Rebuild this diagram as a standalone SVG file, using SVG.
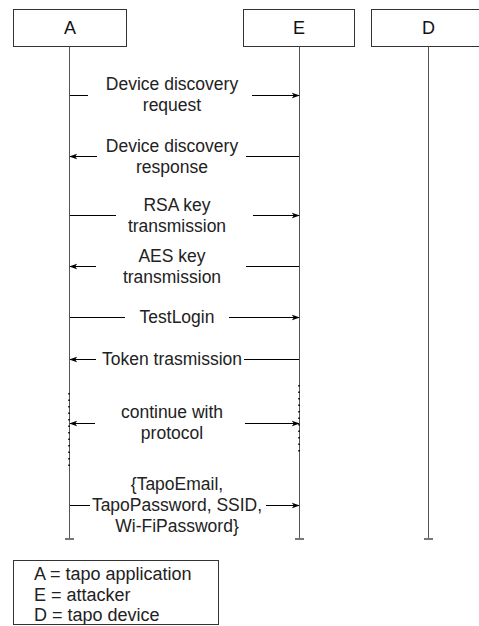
<svg xmlns="http://www.w3.org/2000/svg" width="479" height="626" viewBox="0 0 479 626">
<defs>
<marker id="ah" viewBox="0 0 10 10" refX="9" refY="5" markerWidth="8" markerHeight="8" markerUnits="userSpaceOnUse" orient="auto-start-reverse">
<path d="M0,1.5 L10,5 L0,8.5 L2.5,5 Z" fill="#000"/>
</marker>
<style>
.box{fill:#fff;stroke:#333;stroke-width:1}
.life{stroke:#555;stroke-width:1;fill:none}
.cap{stroke:#777;stroke-width:2}
.dots{stroke:#000;stroke-width:1.5;stroke-dasharray:1.5 5;fill:none}
.msg{stroke:#000;stroke-width:1;fill:none}
.t{font-family:"Liberation Sans",Arial,sans-serif;font-size:17.5px;fill:#222;text-anchor:middle}
.h{font-family:"Liberation Sans",Arial,sans-serif;font-size:18px;fill:#111;text-anchor:middle}
.l{font-family:"Liberation Sans",Arial,sans-serif;font-size:18px;fill:#222}
</style>
</defs>
<rect width="479" height="626" fill="#fff"/>
<g id="A">
<rect class="box" x="13.5" y="9.5" width="113" height="37"/>
<text class="h" x="70" y="34">A</text>
<line class="life" x1="69.5" y1="46.5" x2="69.5" y2="539"/>
<line class="cap" x1="65" y1="539" x2="74" y2="539"/>
</g>
<g id="E">
<rect class="box" x="243.5" y="9.5" width="111" height="37"/>
<text class="h" x="299" y="34">E</text>
<line class="life" x1="299.5" y1="46.5" x2="299.5" y2="539"/>
<line class="cap" x1="295" y1="539" x2="304" y2="539"/>
</g>
<g id="D">
<rect class="box" x="371.5" y="9.5" width="115" height="37"/>
<text class="h" x="428.5" y="34">D</text>
<line class="life" x1="428.5" y1="46.5" x2="428.5" y2="539"/>
<line class="cap" x1="424" y1="539" x2="433" y2="539"/>
</g>
<g id="connectors">
<line class="dots" x1="69" y1="393" x2="69" y2="466"/>
<line class="dots" x1="299" y1="385" x2="299" y2="456"/>
<line class="msg" x1="70" y1="95.5" x2="88" y2="95.5"/>
<line class="msg" x1="252" y1="95.5" x2="299" y2="95.5" marker-end="url(#ah)"/>
<line class="msg" x1="97" y1="156.5" x2="70" y2="156.5" marker-end="url(#ah)"/>
<line class="msg" x1="246" y1="156.5" x2="299" y2="156.5"/>
<line class="msg" x1="70" y1="215.5" x2="116" y2="215.5"/>
<line class="msg" x1="253" y1="215.5" x2="299" y2="215.5" marker-end="url(#ah)"/>
<line class="msg" x1="96" y1="266.5" x2="70" y2="266.5" marker-end="url(#ah)"/>
<line class="msg" x1="246" y1="266.5" x2="299" y2="266.5"/>
<line class="msg" x1="70" y1="317.5" x2="125" y2="317.5"/>
<line class="msg" x1="229" y1="317.5" x2="299" y2="317.5" marker-end="url(#ah)"/>
<line class="msg" x1="96" y1="359.5" x2="70" y2="359.5" marker-end="url(#ah)"/>
<line class="msg" x1="244" y1="359.5" x2="299" y2="359.5"/>
<line class="msg" x1="95" y1="423.5" x2="70" y2="423.5" marker-end="url(#ah)"/>
<line class="msg" x1="245" y1="423.5" x2="299" y2="423.5" marker-end="url(#ah)"/>
<line class="msg" x1="70" y1="505.5" x2="90" y2="505.5"/>
<line class="msg" x1="266" y1="505.5" x2="299" y2="505.5" marker-end="url(#ah)"/>
</g>
<g id="labels">
<text class="t" x="172" y="90">Device discovery</text>
<text class="t" x="172" y="111">request</text>
<text class="t" x="172" y="152">Device discovery</text>
<text class="t" x="172" y="173">response</text>
<text class="t" x="177" y="211">RSA key</text>
<text class="t" x="177" y="232">transmission</text>
<text class="t" x="172" y="262">AES key</text>
<text class="t" x="172" y="283">transmission</text>
<text class="t" x="177" y="323">TestLogin</text>
<text class="t" x="172" y="365">Token trasmission</text>
<text class="t" x="172" y="418">continue with</text>
<text class="t" x="172" y="439">protocol</text>
<text class="t" x="177" y="490">{TapoEmail,</text>
<text class="t" x="177" y="511">TapoPassword, SSID,</text>
<text class="t" x="177" y="532">Wi-FiPassword}</text>
</g>
<g id="legend">
<rect class="box" x="13.5" y="560.5" width="205" height="64"/>
<text class="l" x="34" y="580">A = tapo application</text>
<text class="l" x="34" y="601">E = attacker</text>
<text class="l" x="34" y="621">D = tapo device</text>
</g>
</svg>
